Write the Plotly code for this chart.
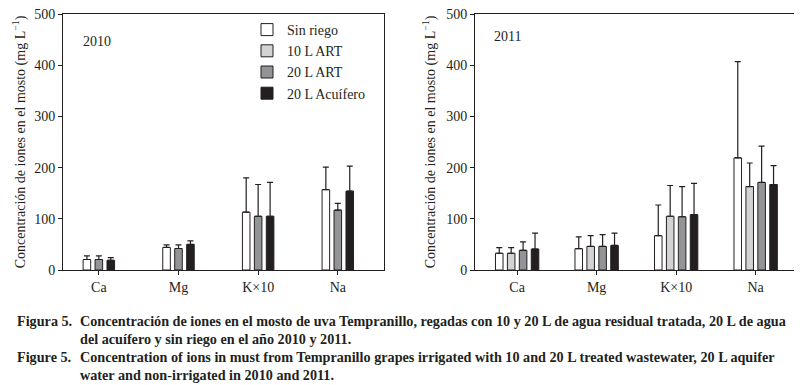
import plotly.graph_objects as go

categories = ["Ca", "Mg", "K×10", "Na"]

# 2010 (no 10 L ART)
y2010_sin = [20.5, 44, 113, 157]
e2010_sin = [7, 5, 67, 44]
y2010_20art = [20.5, 42, 105, 117]
e2010_20art = [7, 7, 62, 13]
y2010_acu = [19, 50, 105, 154]
e2010_acu = [5, 7, 66, 49]

# 2011
y2011_sin = [32.7, 41.7, 67, 219]
e2011_sin = [11, 23, 60, 188]
y2011_10art = [32.7, 46, 105, 163]
e2011_10art = [11, 21, 60, 46]
y2011_20art = [38.5, 46, 104, 171]
e2011_20art = [16.5, 23, 59, 71]
y2011_acu = [41, 48, 108, 167]
e2011_acu = [31, 24, 61, 37]

series_names = ["Sin riego", "10 L ART", "20 L ART", "20 L Acuífero"]
colors = {"Sin riego": "#ffffff", "10 L ART": "#d3d3d3",
          "20 L ART": "#939497", "20 L Acuífero": "#231f20"}

FONT = "Liberation Serif"
TXT = "#231f20"
SLOT = 0.15
BW = 0.095

fig = go.Figure()

def add_bar(name, y, e, xa, ya, center, show):
    fig.add_trace(go.Bar(
        x=categories, y=y, name=name, xaxis=xa, yaxis=ya,
        marker=dict(color=colors[name], line=dict(color="#231f20", width=1)),
        width=BW, offset=center - BW / 2,
        error_y=dict(type="data", array=e, arrayminus=[0] * len(e), symmetric=False,
                     color="#231f20", thickness=1.2, width=3),
        showlegend=show, legendgroup=name,
    ))

# 2010: three bars
add_bar("Sin riego", y2010_sin, e2010_sin, "x", "y", -SLOT, False)
add_bar("20 L ART", y2010_20art, e2010_20art, "x", "y", 0, False)
add_bar("20 L Acuífero", y2010_acu, e2010_acu, "x", "y", SLOT, False)

# 2011: four bars
add_bar("Sin riego", y2011_sin, e2011_sin, "x2", "y2", -1.5 * SLOT, True)
add_bar("10 L ART", y2011_10art, e2011_10art, "x2", "y2", -0.5 * SLOT, True)
add_bar("20 L ART", y2011_20art, e2011_20art, "x2", "y2", 0.5 * SLOT, True)
add_bar("20 L Acuífero", y2011_acu, e2011_acu, "x2", "y2", 1.5 * SLOT, True)

# page has an 8px body margin: figure is offset by (8, 8)
OFF = 8
W, H = 802 - OFF, 385 - OFF

def px(x):
    return (x - OFF) / W

def py(y):
    return 1 - (y - OFF) / H

ydom = [py(270), py(14)]

axis_common = dict(showline=True, linecolor="#231f20", linewidth=1, mirror=True,
                   ticks="outside", ticklen=4, tickcolor="#231f20",
                   tickfont=dict(family=FONT, size=14, color=TXT),
                   showgrid=False, zeroline=False, automargin=False,
                   ticklabeloverflow="allow")

ytitle = "Concentración de iones en el mosto (mg L<sup>−1</sup>)"

fig.update_layout(
    width=W, height=H, margin=dict(l=0, r=0, t=0, b=0),
    paper_bgcolor="white", plot_bgcolor="white",
    barmode="group",
    font=dict(family=FONT, color=TXT),
    xaxis=dict(domain=[px(63), px(384)], range=[-0.45, 3.58], anchor="y", **axis_common),
    yaxis=dict(domain=ydom, range=[0, 500], anchor="x", tickvals=[0, 100, 200, 300, 400, 500],
               title=dict(text=ytitle, font=dict(family=FONT, size=14, color=TXT), standoff=5),
               **axis_common),
    xaxis2=dict(domain=[px(475), px(797)], range=[-0.53, 3.52], anchor="y2", **axis_common),
    yaxis2=dict(domain=ydom, range=[0, 500], anchor="x2", tickvals=[0, 100, 200, 300, 400, 500],
                title=dict(text=ytitle, font=dict(family=FONT, size=14, color=TXT), standoff=7),
                **axis_common),
    legend=dict(x=px(247), y=py(14), xanchor="left", yanchor="top",
                font=dict(family=FONT, size=14, color=TXT), bgcolor="rgba(0,0,0,0)",
                tracegroupgap=0, itemwidth=30),
    showlegend=True,
)

fig.add_annotation(text="2010", xref="paper", yref="paper", x=px(81), y=py(42),
                   xanchor="left", yanchor="middle", showarrow=False,
                   font=dict(family=FONT, size=14, color=TXT))
fig.add_annotation(text="2011", xref="paper", yref="paper", x=px(492), y=py(37),
                   xanchor="left", yanchor="middle", showarrow=False,
                   font=dict(family=FONT, size=14, color=TXT))

cap_font = dict(family=FONT, size=14.2, color=TXT)
caption = [
    ("Figura 5.", "Concentración de iones en el mosto de uva Tempranillo, regadas con 10 y 20 L de agua residual tratada, 20 L de agua", 321),
    ("", "del acuífero y sin riego en el año 2010 y 2011.", 339),
    ("Figure 5.", "Concentration of ions in must from Tempranillo grapes irrigated with 10 and 20 L treated wastewater, 20 L aquifer", 357),
    ("", "water and non-irrigated in 2010 and 2011.", 375),
]
for lab, txt, ypx in caption:
    if lab:
        fig.add_annotation(text="<b>" + lab + "</b>", xref="paper", yref="paper",
                           x=px(15), y=py(ypx), xanchor="left", yanchor="middle",
                           showarrow=False, font=cap_font)
    fig.add_annotation(text="<b>" + txt + "</b>", xref="paper", yref="paper",
                       x=px(78), y=py(ypx), xanchor="left", yanchor="middle",
                       showarrow=False, font=cap_font)

fig.write_html("out.html")
